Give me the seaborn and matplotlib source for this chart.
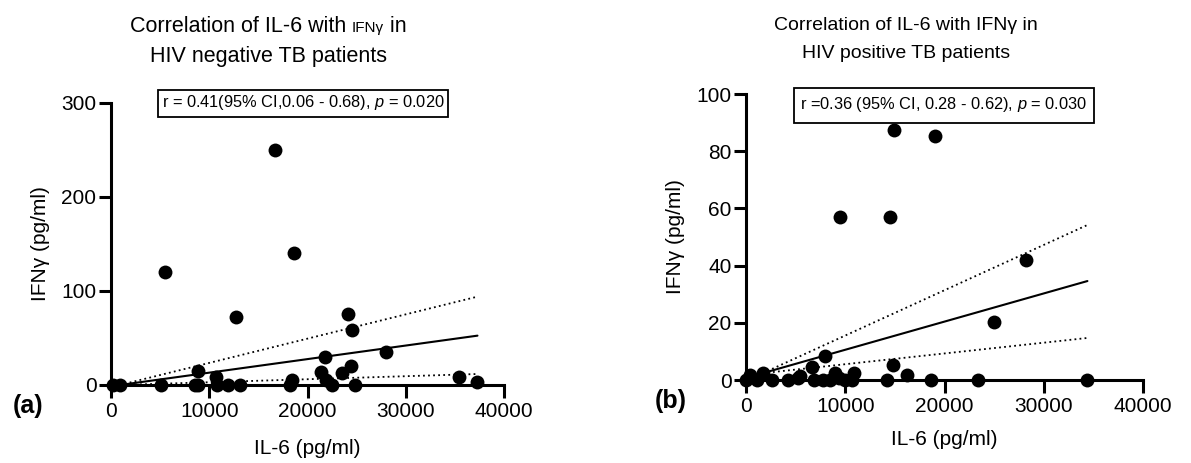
import numpy as np
import pandas as pd
import matplotlib
matplotlib.use("Agg")
import matplotlib.pyplot as plt
from matplotlib.patches import Rectangle
import seaborn as sns

# ---- data ----
neg_il6 = [200, 900, 5100, 5500, 8600, 8900, 8900, 10700, 10800, 11900, 12700, 13100,
           16700, 18200, 18400, 18600, 21400, 21800, 21900, 22500, 23500, 24100, 24400,
           24500, 24800, 28000, 35400, 37300]
neg_ifng = [0, 0, 0, 120, 0, 0, 15, 9, 0, 0, 72, 0,
            250, 0, 5, 140, 14, 30, 5, 0, 13, 76, 20,
            59, 0, 35, 8, 3]
neg_fit_x = [900, 37300]
neg_fit_y = [0, 52.5]
neg_ci_upper = [0, 94]
neg_ci_lower = [0, 11.7]

pos_il6 = [0, 400, 1100, 1700, 2600, 4200, 5200, 5400, 6900, 7800, 8500, 9000, 9400,
           10000, 10700, 10900, 6650, 7960, 9470, 14170, 14510, 14810, 14910, 16220,
           18640, 19040, 23370, 24990, 28210, 34360]
pos_ifng = [0, 1.7, 0, 2.3, 0, 0, 0.6, 1.4, 0, 0, 0, 2.3, 0.6,
            0, 0, 2.3, 4.5, 8.4, 57, 0, 57, 5.2, 87.4, 1.7,
            0, 85.3, 0, 20.3, 42, 0]
pos_fit_x = [1700, 34400]
pos_fit_y = [2.4, 34.6]
pos_ci_upper = [2.4, 54.2]
pos_ci_lower = [2.4, 14.7]

x_ticks = [0, 10000, 20000, 30000, 40000]
neg_y_ticks = [0, 100, 200, 300]
pos_y_ticks = [0, 20, 40, 60, 80, 100]

title_a = ["Correlation of IL-6 with ", "IFNγ", " in", "HIV negative TB patients"]
title_b = ["Correlation of IL-6 with IFNγ in", "HIV positive TB patients"]
stats = ["r = 0.41(95% CI,0.06 - 0.68), $p$ = 0.020",
         "r =0.36 (95% CI, 0.28 - 0.62), $p$ = 0.030"]
panel_labels = ["(a)", "(b)"]
x_label = "IL-6 (pg/ml)"
y_label = "IFNγ (pg/ml)"

# ---- style ----
sns.set_theme(style="ticks")
plt.rcParams["font.family"] = ["Liberation Sans", "DejaVu Sans"]
plt.rcParams["mathtext.fontset"] = "custom"
plt.rcParams["mathtext.it"] = "Liberation Sans:italic"
plt.rcParams["mathtext.rm"] = "Liberation Sans"
for k in ["text.color", "axes.labelcolor", "xtick.color", "ytick.color", "axes.edgecolor"]:
    plt.rcParams[k] = "black"

W, H = 1191, 463
fig = plt.figure(figsize=(W / 100, H / 100), dpi=100)

def frac(x0, y0, x1, y1):
    return [x0 / W, 1 - y1 / H, (x1 - x0) / W, (y1 - y0) / H]

ax1 = fig.add_axes(frac(111, 103, 504, 385))
ax2 = fig.add_axes(frac(746, 94, 1143, 380))

panels = [
    (ax1, neg_il6, neg_ifng, neg_fit_x, neg_fit_y, neg_ci_upper, neg_ci_lower, neg_y_ticks,
     -0.19, -0.155),
    (ax2, pos_il6, pos_ifng, pos_fit_x, pos_fit_y, pos_ci_upper, pos_ci_lower, pos_y_ticks,
     -0.175, -0.154),
]

for ax, xs, ys, fx, fy, cu, cl, yt, xly, ylx in panels:
    df = pd.DataFrame({"x": xs, "y": ys})
    fit = pd.DataFrame({"x": fx, "y": fy, "u": cu, "l": cl})
    sns.lineplot(data=fit, x="x", y="y", ax=ax, color="black", lw=1.5)
    sns.lineplot(data=fit, x="x", y="u", ax=ax, color="black", lw=1.3, linestyle=(0, (1, 1.8)))
    sns.lineplot(data=fit, x="x", y="l", ax=ax, color="black", lw=1.3, linestyle=(0, (1, 1.8)))
    sns.scatterplot(data=df, x="x", y="y", ax=ax, color="black", s=100,
                    edgecolor="black", linewidth=0, zorder=5, clip_on=False)
    ax.set_xlim(0, 40000)
    ax.set_ylim(yt[0], yt[-1])
    ax.set_xticks(x_ticks)
    ax.set_yticks(yt)
    ax.set_xticklabels([str(v) for v in x_ticks], fontsize=15)
    ax.set_yticklabels([str(v) for v in yt], fontsize=15)
    sns.despine(ax=ax)
    for s in ["left", "bottom"]:
        ax.spines[s].set_linewidth(2.2)
    ax.tick_params(width=2.2, length=9, direction="out")
    ax.tick_params(axis="y", pad=1.5)
    ax.tick_params(axis="x", pad=3)
    ax.set_xlabel(x_label, fontsize=15)
    ax.set_ylabel(y_label, fontsize=15)
    ax.xaxis.set_label_coords(0.5, xly)
    ax.yaxis.set_label_coords(ylx, 0.5)

fig.canvas.draw()
renderer = fig.canvas.get_renderer()

def place_pieces(pieces, sizes, cx, cy):
    texts = [fig.text(0, 1 - cy / H, p, fontsize=s, ha="left", va="baseline") for p, s in zip(pieces, sizes)]
    widths = [t.get_window_extent(renderer).width for t in texts]
    x = cx - sum(widths) / 2
    for t, w in zip(texts, widths):
        t.set_x(x / W)
        x += w

# titles (baselines in pixel rows)
place_pieces(title_a[:3], [15.5, 11, 15.5], 268, 32)
fig.text(268 / W, 1 - 62 / H, title_a[3], fontsize=15.5, ha="center", va="baseline")
fig.text(906 / W, 1 - 30 / H, title_b[0], fontsize=14, ha="center", va="baseline")
fig.text(906 / W, 1 - 58 / H, title_b[1], fontsize=14, ha="center", va="baseline")

# stats boxes (text with a rectangle drawn around its extent)
def stat_box(s, cx, cy, padx, pady, size):
    t = fig.text(cx / W, 1 - cy / H, s, ha="center", va="center", fontsize=size, zorder=10)
    bb = t.get_window_extent(renderer)
    rect = Rectangle(((bb.x0 - padx) / W, (bb.y0 - pady) / H),
                     (bb.width + 2 * padx) / W, (bb.height + 2 * pady) / H,
                     transform=fig.transFigure, facecolor="white", edgecolor="black",
                     linewidth=1.3, zorder=9)
    fig.patches.append(rect)

stat_box(stats[0], 303, 103, 4, 4, 11.8)
stat_box(stats[1], 944, 105, 6, 8, 11.8)

# panel labels
fig.text(13 / W, 1 - 406 / H, panel_labels[0], ha="left", va="center", fontsize=18, fontweight="bold")
fig.text(655 / W, 1 - 401 / H, panel_labels[1], ha="left", va="center", fontsize=18, fontweight="bold")

fig.savefig("out.png", dpi=100)
